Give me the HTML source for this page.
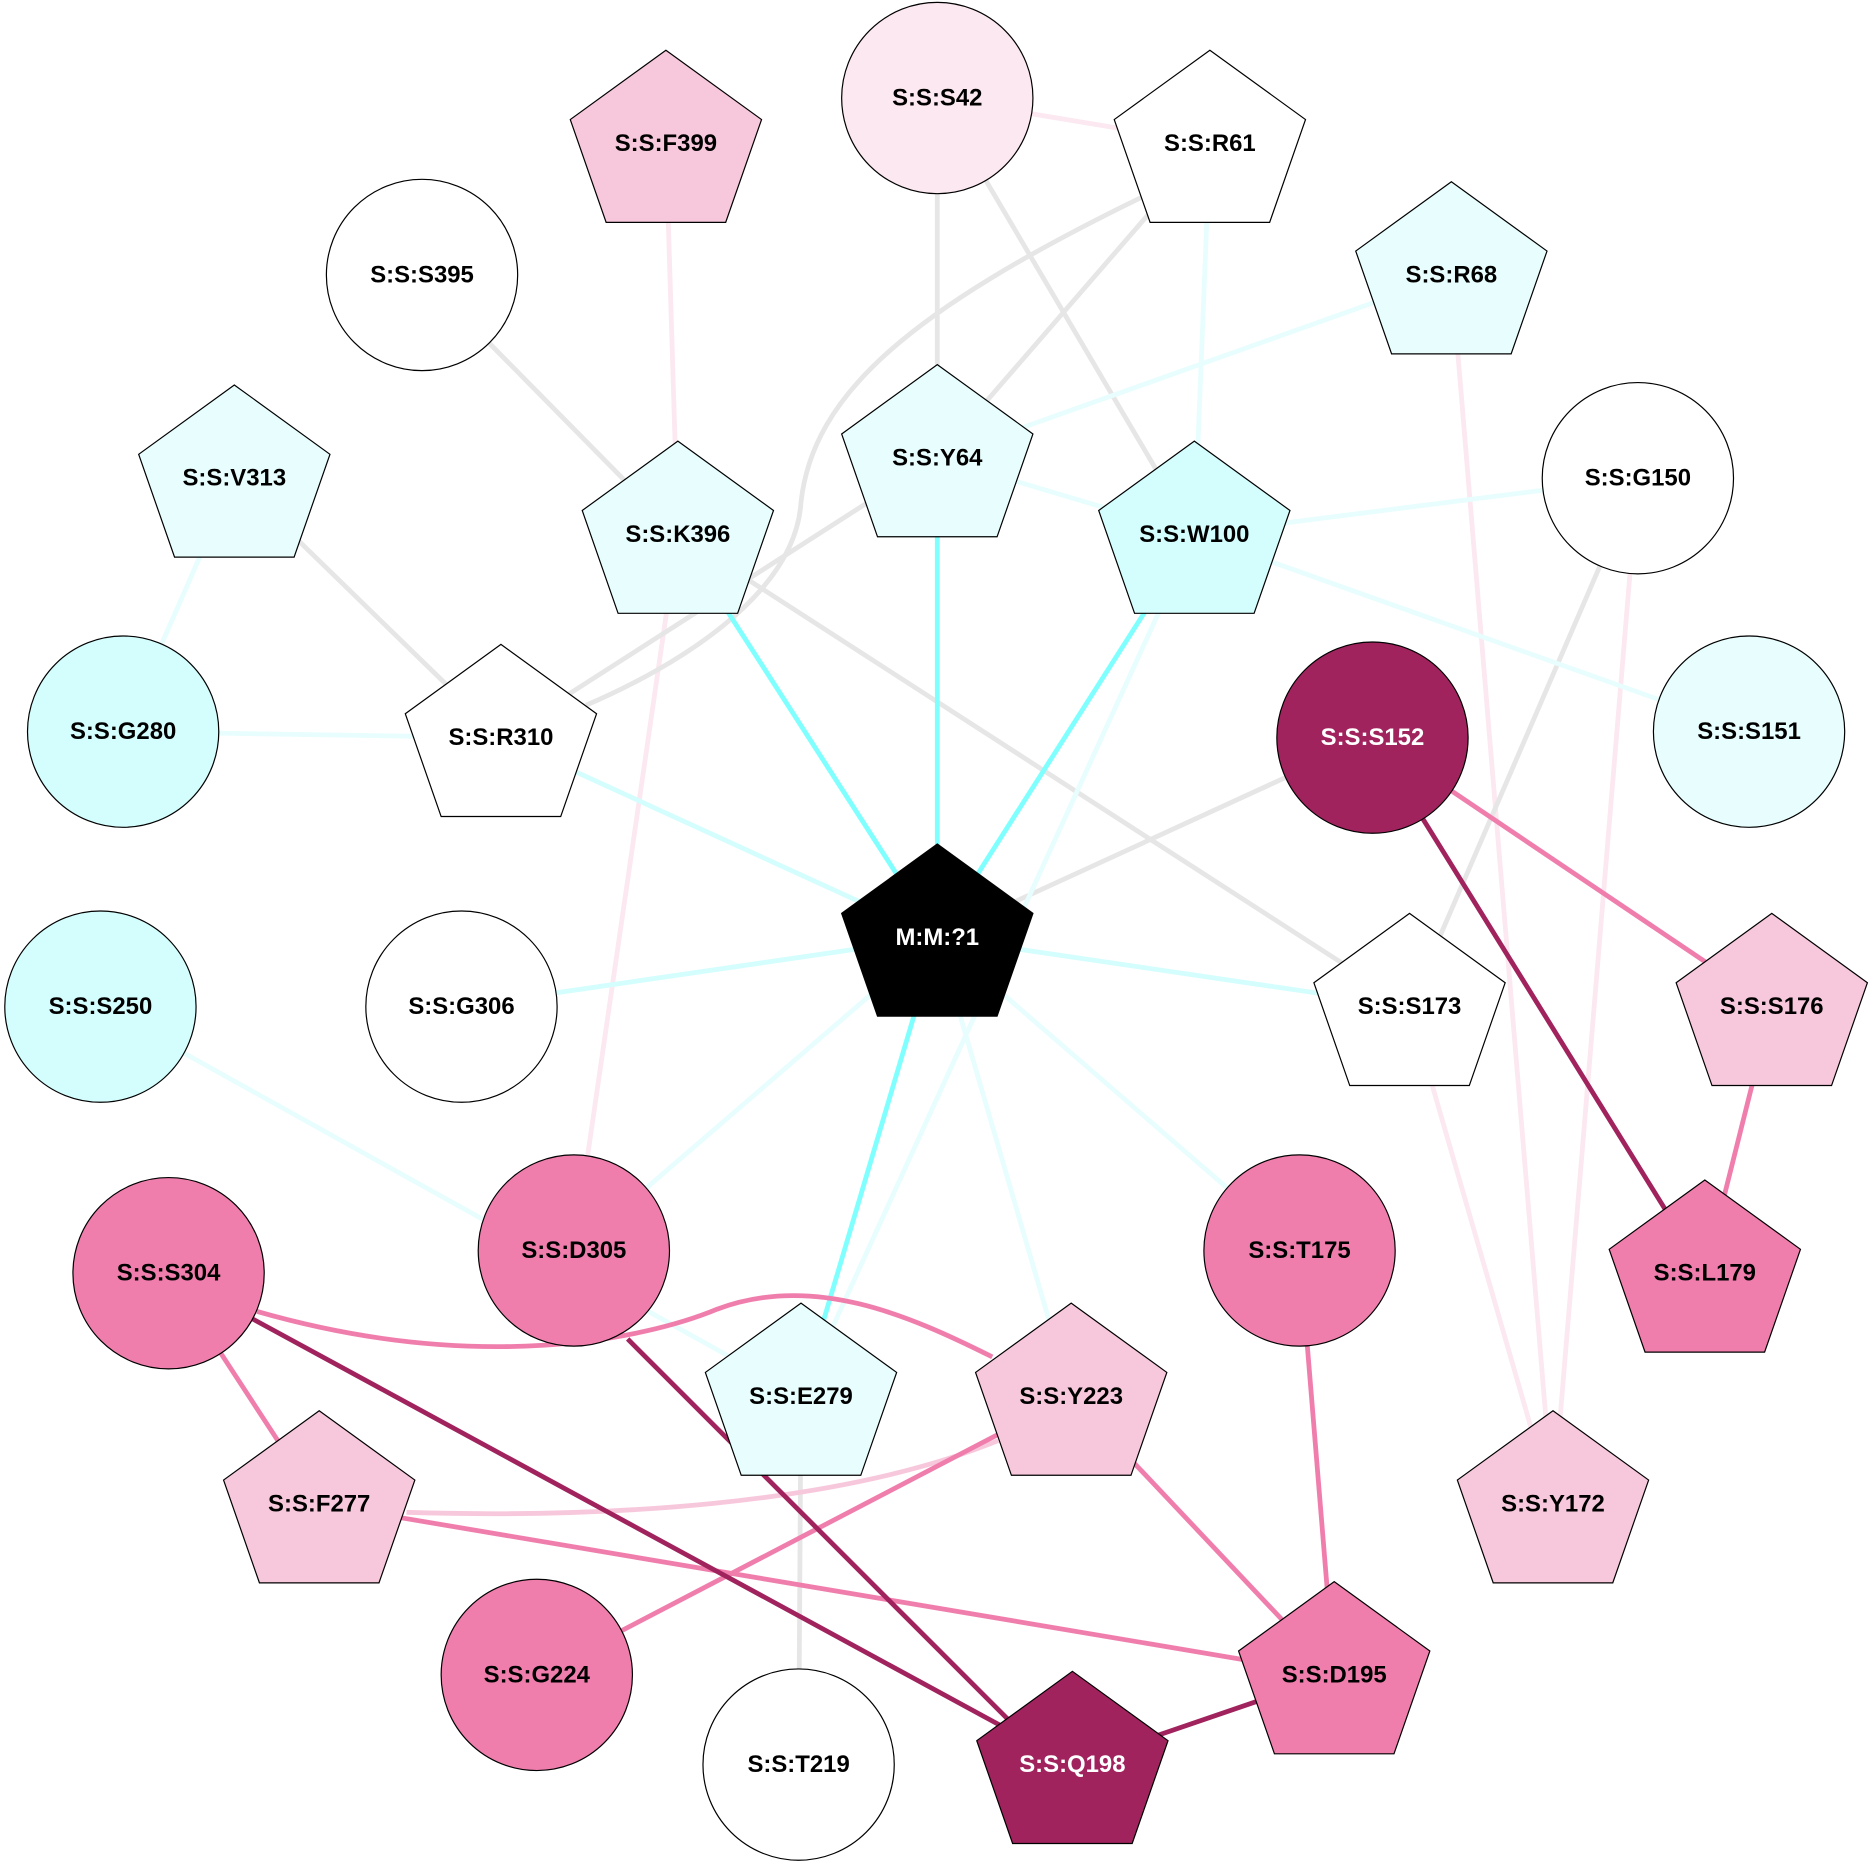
<!DOCTYPE html>
<html><head><meta charset="utf-8"><style>html,body{margin:0;padding:0;background:#fff}svg{display:block}text{font-family:"Liberation Sans",Arial,sans-serif;font-weight:bold;font-size:20px;text-anchor:middle;dominant-baseline:central}</style></head>
<body>
<svg width="1871" height="1865" viewBox="0 0 1565 1560" preserveAspectRatio="none" xmlns="http://www.w3.org/2000/svg">
<defs>
<polygon id="p" points="0,-78 80,-20 50,66 -50,66 -80,-20"/>
</defs>
<g fill="none" stroke-width="4">
<g stroke="#fce8f0">
<line x1="784" y1="82" x2="1012" y2="120"/>
<line x1="557" y1="120" x2="567" y2="447"/>
<line x1="567" y1="447" x2="480" y2="1046"/>
<line x1="1214" y1="230" x2="1299" y2="1258"/>
<line x1="1370" y1="400" x2="1299" y2="1258"/>
<line x1="1179" y1="842" x2="1299" y2="1258"/>
</g>
<g stroke="#e6e6e6">
<line x1="784" y1="82" x2="784" y2="383"/>
<line x1="784" y1="82" x2="999" y2="447"/>
<line x1="1012" y1="120" x2="784" y2="383"/>
<path d="M955,165 C760,260 680,330 670,420 C665,500 560,560 490,590"/>
<line x1="784" y1="383" x2="419" y2="617"/>
<line x1="353" y1="230" x2="567" y2="447"/>
<line x1="196" y1="400" x2="419" y2="617"/>
<line x1="567" y1="447" x2="1179" y2="842"/>
<line x1="784" y1="784" x2="1148" y2="617"/>
<line x1="1370" y1="400" x2="1179" y2="842"/>
<line x1="670" y1="1168" x2="668" y2="1476"/>
</g>
<g stroke="#e8fdfd">
<line x1="784" y1="784" x2="480" y2="1046"/>
<line x1="784" y1="784" x2="896" y2="1168"/>
<line x1="784" y1="784" x2="1087" y2="1046"/>
<line x1="999" y1="447" x2="670" y2="1168"/>
<line x1="1214" y1="230" x2="784" y2="383"/>
<line x1="1012" y1="120" x2="999" y2="447"/>
<line x1="999" y1="447" x2="1370" y2="400"/>
<line x1="999" y1="447" x2="1463" y2="612"/>
<line x1="784" y1="383" x2="999" y2="447"/>
<line x1="196" y1="400" x2="103" y2="612"/>
<line x1="103" y1="612" x2="419" y2="617"/>
<line x1="84" y1="842" x2="670" y2="1168"/>
</g>
<g stroke="#d4fdfd">
<line x1="784" y1="784" x2="419" y2="617"/>
<line x1="784" y1="784" x2="386" y2="842"/>
<line x1="784" y1="784" x2="1179" y2="842"/>
</g>
<g stroke="#80ffff">
<line x1="784" y1="784" x2="567" y2="447"/>
<line x1="784" y1="784" x2="784" y2="383"/>
<line x1="784" y1="784" x2="999" y2="447"/>
<line x1="784" y1="784" x2="670" y2="1168"/>
</g>
<path stroke="#f7c8dc" d="M340,1265 C500,1270 700,1260 835,1205"/>
<g stroke="#f07ead">
<line x1="1148" y1="617" x2="1482" y2="842"/>
<line x1="1482" y1="842" x2="1426" y2="1065"/>
<line x1="141" y1="1065" x2="267" y2="1258"/>
<path d="M215,1097 C400,1150 540,1120 600,1095 C680,1065 760,1100 830,1135"/>
<line x1="896" y1="1168" x2="449" y2="1401"/>
<line x1="896" y1="1168" x2="1116" y2="1401"/>
<line x1="267" y1="1258" x2="1116" y2="1401"/>
<line x1="1087" y1="1046" x2="1116" y2="1401"/>
</g>
<g stroke="#a0235e">
<line x1="1148" y1="617" x2="1426" y2="1065"/>
<line x1="141" y1="1065" x2="897" y2="1476"/>
<line x1="525" y1="1120" x2="845" y2="1440"/>
<line x1="897" y1="1476" x2="1116" y2="1401"/>
</g>
</g>
<g stroke="#000" stroke-width="1">
<circle cx="784" cy="82" r="80" fill="#fce8f0"/>
<use href="#p" x="1012" y="120" fill="#fff"/>
<use href="#p" x="557" y="120" fill="#f7c8dc"/>
<circle cx="353" cy="230" r="80" fill="#fff"/>
<use href="#p" x="1214" y="230" fill="#e8fdfd"/>
<use href="#p" x="784" y="383" fill="#e8fdfd"/>
<use href="#p" x="196" y="400" fill="#e8fdfd"/>
<use href="#p" x="567" y="447" fill="#e8fdfd"/>
<use href="#p" x="999" y="447" fill="#d4fdfd"/>
<circle cx="1370" cy="400" r="80" fill="#fff"/>
<circle cx="103" cy="612" r="80" fill="#d4fdfd"/>
<use href="#p" x="419" y="617" fill="#fff"/>
<circle cx="1148" cy="617" r="80" fill="#a0235e"/>
<circle cx="1463" cy="612" r="80" fill="#e8fdfd"/>
<use href="#p" x="784" y="784" fill="#000"/>
<circle cx="84" cy="842" r="80" fill="#d4fdfd"/>
<circle cx="386" cy="842" r="80" fill="#fff"/>
<use href="#p" x="1179" y="842" fill="#fff"/>
<use href="#p" x="1482" y="842" fill="#f7c8dc"/>
<circle cx="141" cy="1065" r="80" fill="#f07ead"/>
<circle cx="480" cy="1046" r="80" fill="#f07ead"/>
<circle cx="1087" cy="1046" r="80" fill="#f07ead"/>
<use href="#p" x="1426" y="1065" fill="#f07ead"/>
<use href="#p" x="670" y="1168" fill="#e8fdfd"/>
<use href="#p" x="896" y="1168" fill="#f7c8dc"/>
<use href="#p" x="267" y="1258" fill="#f7c8dc"/>
<use href="#p" x="1299" y="1258" fill="#f7c8dc"/>
<circle cx="449" cy="1401" r="80" fill="#f07ead"/>
<circle cx="668" cy="1476" r="80" fill="#fff"/>
<use href="#p" x="897" y="1476" fill="#a0235e"/>
<use href="#p" x="1116" y="1401" fill="#f07ead"/>
</g>
<g fill="#000">
<text x="784" y="82">S:S:S42</text>
<text x="1012" y="120">S:S:R61</text>
<text x="557" y="120">S:S:F399</text>
<text x="353" y="230">S:S:S395</text>
<text x="1214" y="230">S:S:R68</text>
<text x="784" y="383">S:S:Y64</text>
<text x="196" y="400">S:S:V313</text>
<text x="567" y="447">S:S:K396</text>
<text x="999" y="447">S:S:W100</text>
<text x="1370" y="400">S:S:G150</text>
<text x="103" y="612">S:S:G280</text>
<text x="419" y="617">S:S:R310</text>
<text x="1148" y="617" fill="#fff">S:S:S152</text>
<text x="1463" y="612">S:S:S151</text>
<text x="784" y="784" fill="#fff">M:M:?1</text>
<text x="84" y="842">S:S:S250</text>
<text x="386" y="842">S:S:G306</text>
<text x="1179" y="842">S:S:S173</text>
<text x="1482" y="842">S:S:S176</text>
<text x="141" y="1065">S:S:S304</text>
<text x="480" y="1046">S:S:D305</text>
<text x="1087" y="1046">S:S:T175</text>
<text x="1426" y="1065">S:S:L179</text>
<text x="670" y="1168">S:S:E279</text>
<text x="896" y="1168">S:S:Y223</text>
<text x="267" y="1258">S:S:F277</text>
<text x="1299" y="1258">S:S:Y172</text>
<text x="449" y="1401">S:S:G224</text>
<text x="668" y="1476">S:S:T219</text>
<text x="897" y="1476" fill="#fff">S:S:Q198</text>
<text x="1116" y="1401">S:S:D195</text>
</g>
</svg>
</body></html>
